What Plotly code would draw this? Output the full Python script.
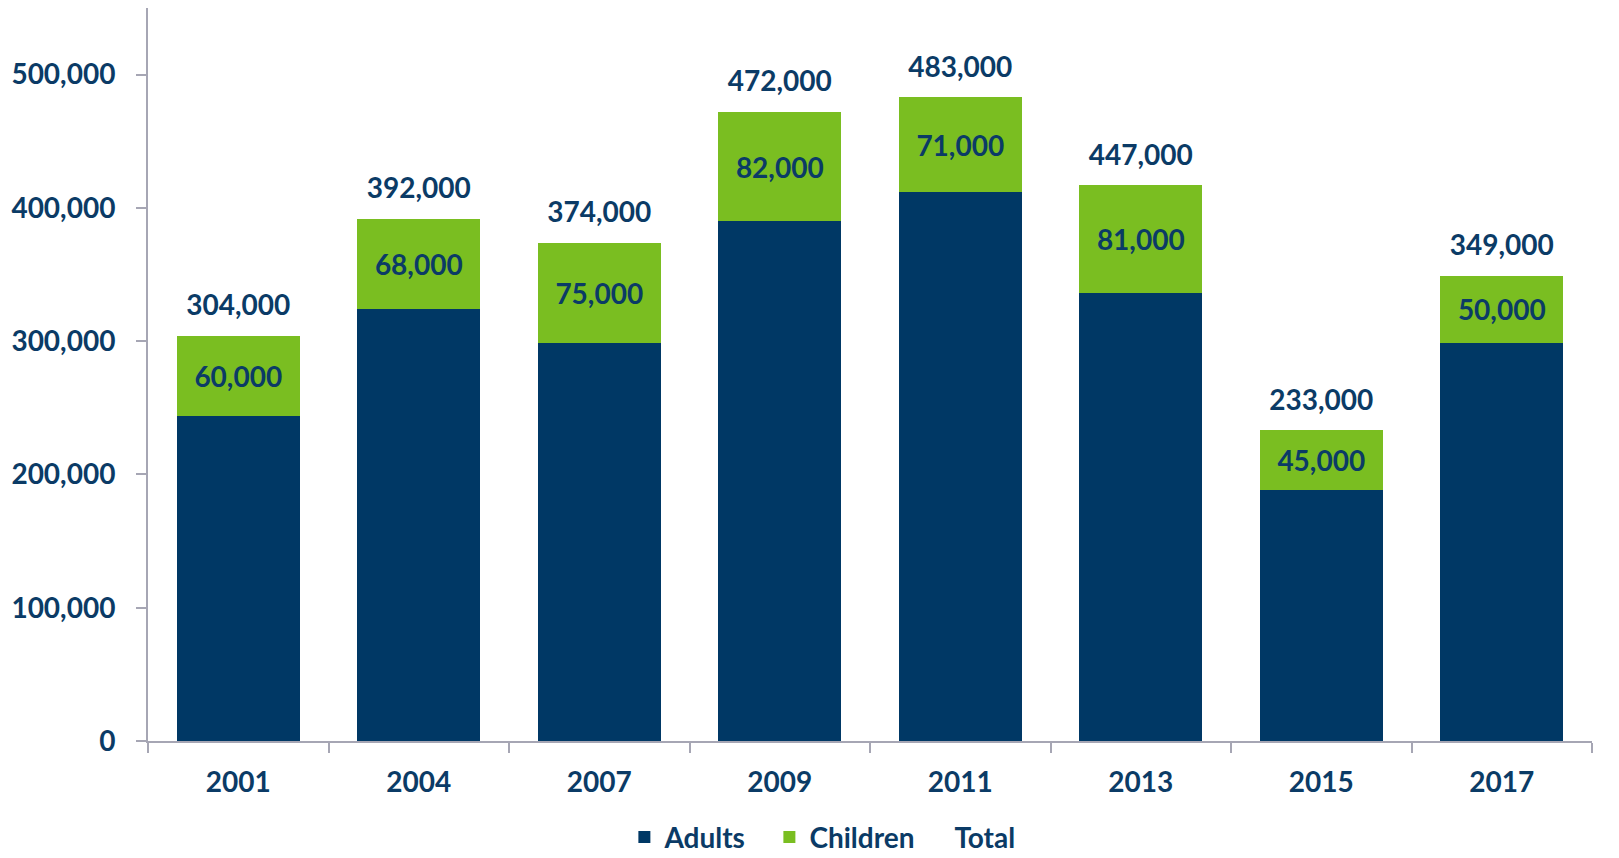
import plotly.graph_objects as go

years = ["2001", "2004", "2007", "2009", "2011", "2013", "2015", "2017"]
adults = [244000, 324000, 299000, 390000, 412000, 336000, 188000, 299000]
children = [60000, 68000, 75000, 82000, 71000, 81000, 45000, 50000]
totals = [304000, 392000, 374000, 472000, 483000, 447000, 233000, 349000]
y_ticks = [0, 100000, 200000, 300000, 400000, 500000]

NAVY = "#003865"
GREEN = "#7ABE21"
TEXT = "#0B3B66"
AXIS = "#A6A6B4"
FONT = "Lato"
FS = 28

stack_top = [a + c for a, c in zip(adults, children)]

fig = go.Figure()
fig.add_trace(go.Bar(x=years, y=adults, name="Adults", marker=dict(color=NAVY, line=dict(width=0))))
fig.add_trace(go.Bar(
    x=years, y=children, name="Children", marker=dict(color=GREEN, line=dict(width=0)),
    text=[f"{v:,}" for v in children], textposition="inside", insidetextanchor="middle",
    textangle=0, textfont=dict(color=TEXT, size=FS, family=FONT, weight="bold"),
))
fig.add_trace(go.Scatter(
    x=years, y=stack_top, name="Total", mode="markers+text",
    marker=dict(size=20, color="rgba(0,0,0,0)"),
    text=[f"{v:,}" for v in totals], textposition="top center",
    textfont=dict(color=TEXT, size=FS, family=FONT, weight="bold"),
    cliponaxis=False, hoverinfo="skip",
))

fig.update_layout(
    width=1619, height=858,
    barmode="stack", bargap=0.32,
    plot_bgcolor="white", paper_bgcolor="white",
    margin=dict(l=148, r=27, t=8, b=117, autoexpand=False),
    font=dict(family=FONT, size=FS, color=TEXT, weight="bold"),
    showlegend=True,
    legend=dict(orientation="h", x=0.52, xanchor="center", xref="container",
                y=0.024, yanchor="middle", yref="container",
                font=dict(size=FS, family=FONT, color=TEXT, weight="bold"),
                itemwidth=30, entrywidth=100, traceorder="normal"),
    uniformtext=dict(mode=False),
)
fig.update_xaxes(
    showline=True, linecolor=AXIS, linewidth=2,
    ticks="outside", ticklen=10, tickcolor=AXIS, tickwidth=2,
    tickson="boundaries", showgrid=False, automargin=False, ticklabelstandoff=15,
    tickfont=dict(size=FS, family=FONT, color=TEXT, weight="bold"),
)
fig.update_yaxes(
    range=[0, 550000], tickvals=y_ticks, ticktext=[f"{v:,}" for v in y_ticks],
    showline=True, linecolor=AXIS, linewidth=2,
    ticks="outside", ticklen=10, tickcolor=AXIS, tickwidth=2,
    showgrid=False, zeroline=False, ticklabelstandoff=15, automargin=False,
    tickfont=dict(size=FS, family=FONT, color=TEXT, weight="bold"),
)

fig.write_html(
    "out.html",
    config={"displayModeBar": False},
    post_script="document.body.style.margin='0';document.body.style.overflow='hidden';",
)
